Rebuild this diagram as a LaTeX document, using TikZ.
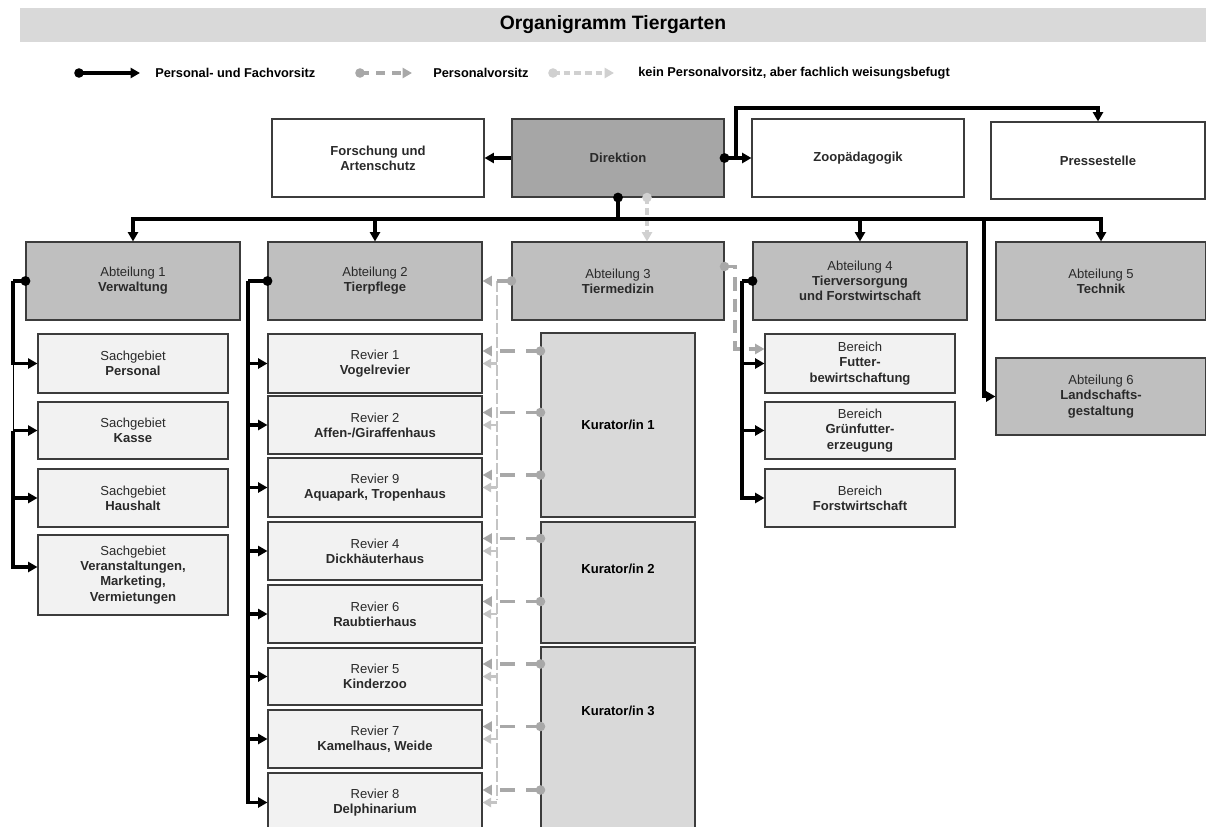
\documentclass[tikz,border=0pt]{standalone}
\usepackage{fontspec}
\setmainfont{Liberation Sans}
\usetikzlibrary{arrows.meta,calc}
\definecolor{dirgrey}{HTML}{A6A6A6}
\definecolor{abtgrey}{HTML}{BFBFBF}
\definecolor{kurgrey}{HTML}{D9D9D9}
\definecolor{subgrey}{HTML}{F2F2F2}
\definecolor{titlegrey}{HTML}{D9D9D9}
\definecolor{pvgrey}{HTML}{A8A8A8}
\definecolor{kpgrey}{HTML}{C4C4C4}
\definecolor{lightgrey}{HTML}{D0D0D0}
\definecolor{edgecol}{HTML}{3C3C3C}
\definecolor{txtgrey}{HTML}{2A2A2A}
\begin{document}
\begin{tikzpicture}[x=0.75pt,y=-0.75pt,
  sz/.style 2 args={minimum width=#1*0.75pt, minimum height=#2*0.75pt},
  box/.style={draw=edgecol, line width=0.8pt, inner sep=0pt, align=center,
    text=txtgrey, font=\fontsize{9.8pt}{11.4pt}\selectfont},
  topbox/.style={box, fill=white},
  dirbox/.style={box, fill=dirgrey},
  abtbox/.style={box, fill=abtgrey},
  subbox/.style={box, fill=subgrey},
  kurbox/.style={box, fill=kurgrey},
  boldtxt/.style={inner sep=0pt, font=\fontsize{9.8pt}{11.4pt}\selectfont\bfseries, text=black},
  legtxt/.style={anchor=west, inner sep=0pt, font=\fontsize{9.6pt}{11pt}\selectfont\bfseries},
  tipb/.style={-{Triangle[length=7pt,width=7.5pt]}},
  pfl/.style={draw=black, line width=2.6pt},
  pf/.style={pfl, tipb},
  thinl/.style={draw=black, line width=0.6pt},
  pv/.style={draw=pvgrey, line width=2.4pt, dash pattern=on 11pt off 8pt,
    -{Triangle[length=7pt,width=7.5pt]}},
  kp/.style={draw=lightgrey, line width=2.4pt, dash pattern=on 5pt off 3pt,
    -{Triangle[length=7pt,width=7.5pt]}},
  kpl/.style={draw=kpgrey, line width=2.2pt, dash pattern=on 8pt off 2.5pt},
  kpa/.style={draw=kpgrey, line width=1.8pt, -{Triangle[length=6.5pt,width=7pt]}},
]
\useasboundingbox (0,0) rectangle (1206,827);
\clip (0,0) rectangle (1206,827);

% title
\node[fill=titlegrey, sz={1186}{34}, inner sep=0pt,
  font=\fontsize{14.5pt}{17pt}\selectfont\bfseries] (title) at (613,25) {Organigramm Tiergarten};

% legend
\coordinate (l1a) at (79,73);  \coordinate (l1b) at (140,73);
\coordinate (l2a) at (360,73); \coordinate (l2b) at (412,73);
\coordinate (l3a) at (553,73); \coordinate (l3b) at (614,73);
\draw[pf] (l1a) -- (l1b);
\fill (l1a) circle[radius=3.6pt];
\draw[pv, dash pattern=on 7pt off 5pt] (l2a) -- (l2b);
\fill[pvgrey] (l2a) circle[radius=3.6pt];
\draw[kp] (l3a) -- (l3b);
\fill[lightgrey] (l3a) circle[radius=3.6pt];
\node[legtxt] (lt1) at (155,73) {Personal- und Fachvorsitz};
\node[legtxt] (lt2) at (433,73) {Personalvorsitz};
\node[legtxt] (lt3) at (638,73) {kein Personalvorsitz, aber fachlich weisungsbefugt};

% top row
\node[topbox, sz={212}{78}] (forsch) at (378,158) {\bfseries Forschung und\\\bfseries Artenschutz};
\node[dirbox, sz={212}{78}] (dir) at (618,158) {\bfseries Direktion};
\node[topbox, sz={212}{78}] (zoo) at (858,158) {\bfseries Zoopädagogik};
\node[topbox, sz={214}{77}] (presse) at (1098,160.5) {\bfseries Pressestelle};

% Abteilungen
\node[abtbox, sz={214}{78}] (a1) at (133,281) {Abteilung 1\\\textbf{Verwaltung}};
\node[abtbox, sz={214}{78}] (a2) at (375,281) {Abteilung 2\\\textbf{Tierpflege}};
\node[abtbox, sz={212}{78}] (a3) at (618,281) {Abteilung 3\\\textbf{Tiermedizin}};
\node[abtbox, sz={214}{78}] (a4) at (860,281) {Abteilung 4\\\textbf{Tierversorgung}\\\textbf{und Forstwirtschaft}};
\node[abtbox, sz={210}{78}] (a5) at (1101,281) {Abteilung 5\\\textbf{Technik}};
\node[abtbox, sz={210}{77}] (a6) at (1101,396.5) {Abteilung 6\\\textbf{Landschafts-}\\\textbf{gestaltung}};

% Sachgebiete
\node[subbox, sz={190}{59}] (s1) at (133,363.5) {Sachgebiet\\\textbf{Personal}};
\node[subbox, sz={190}{57}] (s2) at (133,430.5) {Sachgebiet\\\textbf{Kasse}};
\node[subbox, sz={190}{58}] (s3) at (133,498) {Sachgebiet\\\textbf{Haushalt}};
\node[subbox, sz={190}{80}] (s4) at (133,575) {Sachgebiet\\\textbf{Veranstaltungen,}\\\textbf{Marketing,}\\\textbf{Vermietungen}};

% Reviere
\node[subbox, sz={214}{59}] (r1) at (375,363.5) {Revier 1\\\textbf{Vogelrevier}};
\node[subbox, sz={214}{58}] (r2) at (375,425) {Revier 2\\\textbf{Affen-/Giraffenhaus}};
\node[subbox, sz={214}{59}] (r9) at (375,487.5) {Revier 9\\\textbf{Aquapark, Tropenhaus}};
\node[subbox, sz={214}{58}] (r4) at (375,551) {Revier 4\\\textbf{Dickhäuterhaus}};
\node[subbox, sz={214}{58}] (r6) at (375,614) {Revier 6\\\textbf{Raubtierhaus}};
\node[subbox, sz={214}{57}] (r5) at (375,676.5) {Revier 5\\\textbf{Kinderzoo}};
\node[subbox, sz={214}{58}] (r7) at (375,739) {Revier 7\\\textbf{Kamelhaus, Weide}};
\node[subbox, sz={214}{59}] (r8) at (375,802.5) {Revier 8\\\textbf{Delphinarium}};

% Kuratoren
\node[kurbox, sz={154}{184}] (k1) at (618,425) {};
\node[kurbox, sz={154}{121}] (k2) at (618,582.5) {};
\node[kurbox, sz={154}{193}] (k3) at (618,743.5) {};
\node[boldtxt] (k1t) at (618,425) {Kurator/in 1};
\node[boldtxt] (k2t) at (618,569) {Kurator/in 2};
\node[boldtxt] (k3t) at (618,711) {Kurator/in 3};

% Bereiche
\node[subbox, sz={190}{59}] (b1) at (860,363.5) {Bereich\\\textbf{Futter-}\\\textbf{bewirtschaftung}};
\node[subbox, sz={190}{57}] (b2) at (860,430.5) {Bereich\\\textbf{Grünfutter-}\\\textbf{erzeugung}};
\node[subbox, sz={190}{58}] (b3) at (860,498) {Bereich\\\textbf{Forstwirtschaft}};

% ---------- grey connectors (behind black) ----------
% Direktion -> Abteilung 3 (light)
\coordinate (d3) at ($(dir.south)+(29,0)$);
\draw[kp] (d3) -- (d3 |- a3.north);
\fill[lightgrey] (d3) circle[radius=3.6pt];

% vertical light line from Abteilung 3 to Reviere
\coordinate (vt) at (497,281);
\coordinate (vb) at (497,800);
\draw[kpl] (vt) -- (vb);
\foreach \r in {r1,r2,r9,r4,r6,r5,r7,r8}{
  \draw[kpa] (\r.east -| vt) -- (\r.east);
}

% Abteilung 3 -> Abteilung 2
\draw[pv] (a3.west) -- (a2.east);
\fill[pvgrey] (a3.west) circle[radius=3.6pt];

% Kuratoren -> Reviere
\foreach \r/\k in {r1/k1,r2/k1,r9/k1,r4/k2,r6/k2,r5/k3,r7/k3,r8/k3}{
  \coordinate (c\r) at ($(\r.east)+(0,-12.5)$);
  \draw[pv] (\k.west |- c\r) -- (c\r);
  \fill[pvgrey] (\k.west |- c\r) circle[radius=3.6pt];
}

% Abteilung 3 -> Bereich Futter
\coordinate (a3f) at ($(a3.east)+(0,-14.5)$);
\coordinate (a3fj) at (735,266.5);
\coordinate (b1f) at ($(b1.west)+(0,-14.5)$);
\draw[pv, dash pattern=on 10pt off 6pt] (a3f) -- (a3fj) |- (b1f);
\fill[pvgrey] (a3f) circle[radius=3.6pt];

% ---------- black connectors ----------
\draw[pf] (dir.west) -- (forsch.east);
\draw[pf] (dir.east) -- (zoo.west);
\fill (dir.east) circle[radius=3.7pt];
\coordinate (dzj) at (736,158);
\coordinate (ptop) at (1098,108);
\draw[pf] (dzj) |- (ptop) -- (presse.north);

\coordinate (bus) at (618,219);
\draw[pfl] (dir.south) -- (bus);
\fill (dir.south) circle[radius=3.7pt];
\draw[pf] (bus) -| (a1.north);
\draw[pf] (bus) -| (a2.north);
\draw[pf] (bus) -| (a4.north);
\draw[pf] (bus) -| (a5.north);
\coordinate (a6j) at (984,219);
\draw[pf] (a6j) |- (a6.west);

% Abteilung 1
\coordinate (a1b) at (13,281);
\draw[pfl] (a1.west) -- (a1b);
\fill (a1.west) circle[radius=3.7pt];
\draw[pf] (a1b) |- (s1.west);
\draw[thinl] (s1.west -| a1b) -- (s2.west -| a1b);
\draw[pf] (s2.west -| a1b) -- (s2.west);
\draw[pf] (s2.west -| a1b) |- (s3.west);
\draw[pf] (s2.west -| a1b) |- ([yshift=6pt]s4.west);

% Abteilung 2
\coordinate (a2b) at (248,281);
\draw[pfl] (a2.west) -- (a2b);
\fill (a2.west) circle[radius=3.7pt];
\foreach \r in {r1,r2,r9,r4,r6,r5,r7,r8}{
  \draw[pf] (a2b) |- (\r.west);
}

% Abteilung 4
\coordinate (a4b) at (742,281);
\draw[pfl] (a4.west) -- (a4b);
\fill (a4.west) circle[radius=3.7pt];
\foreach \b in {b1,b2,b3}{
  \draw[pf] (a4b) |- (\b.west);
}
\end{tikzpicture}
\end{document}
